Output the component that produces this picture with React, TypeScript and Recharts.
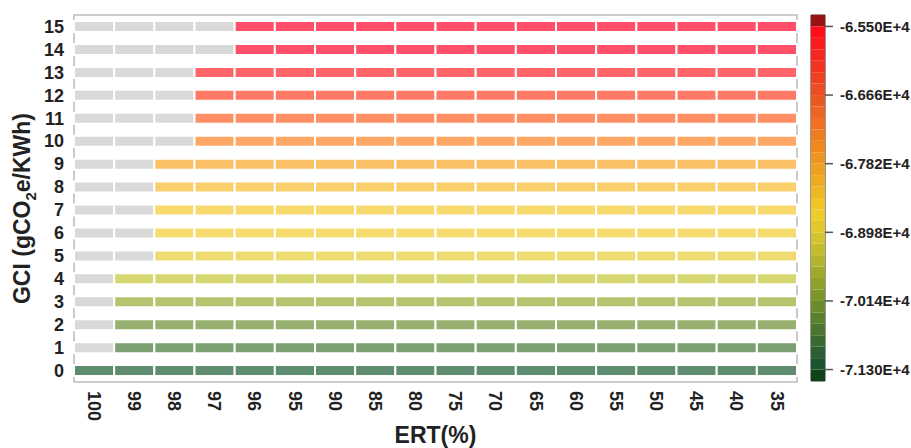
import React from 'react';
import { BarChart, Bar, XAxis, YAxis, Cell, ReferenceArea } from 'recharts';

const ertLabels = ['100', '99', '98', '97', '96', '95', '90', '85', '80', '75', '70', '65', '60', '55', '50', '45', '40', '35'];
const gciLevels = [15, 14, 13, 12, 11, 10, 9, 8, 7, 6, 5, 4, 3, 2, 1, 0];
const rowColors = [
  '#FF4F69', '#FF4F69', '#FF6468', '#FF7866', '#FF9066', '#FFA866', '#F9C066', '#F9CF6C',
  '#F8D96E', '#F6DC6E', '#EEDC72', '#D6D672', '#B6C470', '#98B070', '#7CA072', '#5E8C6E',
];
const missingCells = [4, 4, 3, 3, 3, 3, 2, 2, 2, 2, 2, 1, 1, 1, 1, 0];
const naColor = '#D9D9D9';

const colorbarTicks = [-71300, -70140, -68980, -67820, -66660, -65500];
const colorbarDomain = [-71493.3, -65306.7];
const colorbarColors = [
  '#9A1212', '#FF0D1A', '#FB1A1E', '#F7261F', '#F43321', '#F04022', '#EC4D22', '#EA5822',
  '#EE6422', '#F07020', '#F07C20', '#F08820', '#EF9420', '#EEA020', '#EEAC22', '#EEB824',
  '#EEC426', '#EECC2A', '#E2C82C', '#D4C22E', '#C4BC2E', '#B2B42C', '#A0AA2A', '#8EA02A',
  '#7C962A', '#6A8C2A', '#5A822C', '#4A762E', '#3A6A30', '#2A6032', '#1C5430', '#0E4418',
];

const FONT = '"Liberation Sans", Arial, Helvetica, sans-serif';

const rows = gciLevels.map((g) => {
  const row: Record<string, any> = { gci: String(g) };
  ertLabels.forEach((_, i) => {
    row['c' + i] = 1;
  });
  return row;
});

const cbRow: Record<string, any> = { k: 'cb' };
const cbBottomUp = [...colorbarColors].reverse();
cbBottomUp.forEach((_, i) => {
  cbRow['s' + i] = 1;
});
const cbData = [cbRow];

const XTick = (props: any) => {
  const { x, y, payload } = props;
  const idx = Math.floor(payload.value);
  return (
    <text
      x={x}
      y={y}
      transform={`rotate(90, ${x}, ${y})`}
      textAnchor="start"
      dy="0.35em"
      fontSize={18}
      fontWeight="bold"
      fill="#222"
      fontFamily={FONT}
    >
      {ertLabels[idx]}
    </text>
  );
};

const YTick = (props: any) => {
  const { x, y, payload } = props;
  return (
    <text x={x} y={y} textAnchor="end" dy="0.35em" fontSize={18} fontWeight="bold" fill="#222" fontFamily={FONT}>
      {payload.value}
    </text>
  );
};

const YLabel = (props: any) => {
  const vb = props.viewBox || { x: 0, y: 15, width: 74, height: 367 };
  const cx = vb.x + 22;
  const cy = vb.y + vb.height / 2 + 10;
  return (
    <text
      x={cx}
      y={cy}
      transform={`rotate(-90, ${cx}, ${cy})`}
      textAnchor="middle"
      dy="0.35em"
      fontSize={23}
      fontWeight="bold"
      fill="#222"
      fontFamily={FONT}
    >
      <tspan>GCI (gCO</tspan>
      <tspan fontSize={15} dy={6}>2</tspan>
      <tspan dy={-6}>e/KWh)</tspan>
    </text>
  );
};

const XLabel = (props: any) => {
  const vb = props.viewBox || { x: 74, y: 382, width: 723, height: 66 };
  return (
    <text
      x={vb.x + vb.width / 2}
      y={vb.y + 61}
      textAnchor="middle"
      fontSize={23}
      fontWeight="bold"
      fill="#222"
      fontFamily={FONT}
    >
      ERT(%)
    </text>
  );
};

const xTicks = ertLabels.map((_, i) => i + 0.5);

export default function App() {
  return (
    <div style={{ position: 'absolute', left: 0, top: 0, width: 911, height: 448, background: '#fff', fontFamily: FONT }}>
      <div style={{ position: 'absolute', left: 0, top: 0 }}>
        <BarChart
          width={911}
          height={448}
          data={rows}
          layout="vertical"
          margin={{ top: 15, right: 114, bottom: 0, left: 0 }}
          barCategoryGap={0}
        >
          <XAxis
            type="number"
            domain={[0, ertLabels.length]}
            ticks={xTicks}
            interval={0}
            height={66}
            axisLine={false}
            tickLine={false}
            tickSize={0}
            tickMargin={9}
            tick={<XTick />}
            label={<XLabel />}
          />
          <YAxis
            type="category"
            dataKey="gci"
            width={74}
            axisLine={false}
            tickLine={false}
            tickSize={0}
            tickMargin={10}
            interval={0}
            tick={<YTick />}
            label={<YLabel />}
          />
          {ertLabels.map((_, i) => (
            <Bar
              key={'c' + i}
              dataKey={'c' + i}
              stackId="a"
              barSize={11}
              stroke="#ffffff"
              strokeWidth={2}
              isAnimationActive={false}
            >
              {rows.map((_r, r) => (
                <Cell key={r} fill={i < missingCells[r] ? naColor : rowColors[r]} />
              ))}
            </Bar>
          ))}
          <ReferenceArea
            x1={0}
            x2={ertLabels.length}
            fill="none"
            fillOpacity={0}
            stroke="#BDBDBD"
            strokeWidth={1.6}
            ifOverflow="visible"
          />
        </BarChart>
      </div>
      <div style={{ position: 'absolute', left: 0, top: 0 }}>
        <BarChart
          width={911}
          height={448}
          data={cbData}
          margin={{ top: 15, right: 0, bottom: 67, left: 811 }}
          barCategoryGap={0}
          barGap={0}
        >
          <XAxis dataKey="k" type="category" hide />
          <YAxis yAxisId="seg" type="number" domain={[0, colorbarColors.length]} hide />
          <YAxis
            yAxisId="val"
            orientation="right"
            type="number"
            domain={colorbarDomain}
            ticks={colorbarTicks}
            allowDataOverflow
            width={86}
            axisLine={false}
            tickLine={{ stroke: '#555', strokeWidth: 1.5 }}
            tickSize={8}
            tickMargin={7}
            tickFormatter={(v: number) => (v / 1e4).toFixed(3) + 'E+4'}
            tick={{ fontSize: 15, fontWeight: 'bold', fill: '#222', fontFamily: FONT }}
          />
          {cbBottomUp.map((c, i) => (
            <Bar key={'s' + i} dataKey={'s' + i} stackId="cb" yAxisId="seg" fill={c} isAnimationActive={false} />
          ))}
          <ReferenceArea
            yAxisId="seg"
            y1={0}
            y2={colorbarColors.length}
            fill="none"
            fillOpacity={0}
            stroke="#333"
            strokeWidth={1}
            ifOverflow="visible"
          />
        </BarChart>
      </div>
    </div>
  );
}
